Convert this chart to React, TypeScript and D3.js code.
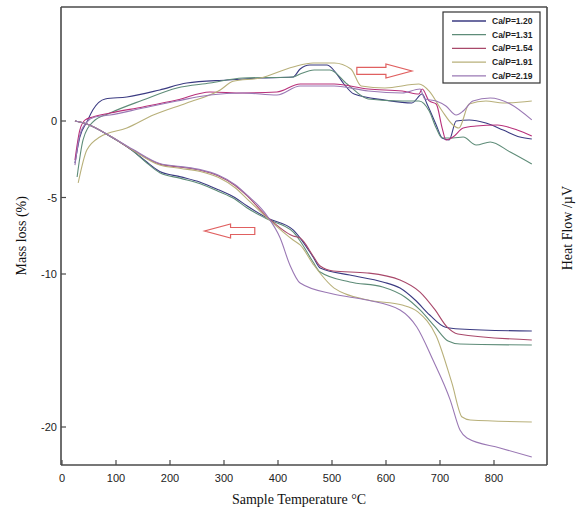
import React from 'react';
import * as d3 from 'd3';

// TG (mass loss %) and DSC (heat flow) traces, [temperature °C, value]
const seriesNames = ['Ca/P=1.20', 'Ca/P=1.31', 'Ca/P=1.54', 'Ca/P=1.91', 'Ca/P=2.19'];
const seriesColors = ['#3b3b82', '#5e8c78', '#a8486a', '#b8b07a', '#9a78b4'];

const tg120 = [[24, 0], [46, -0.2], [89, -1.0], [131, -1.95], [154, -2.6], [181, -3.3], [220, -3.65], [256, -4.0], [290, -4.5], [320, -5.0], [343, -5.56], [380, -6.34], [428, -7.12], [441, -7.65], [465, -8.89], [478, -9.61], [533, -10.07], [594, -10.52], [626, -10.92], [654, -11.7], [681, -12.68], [709, -13.46], [737, -13.59], [870, -13.73]];
const tg131 = [[24, 0], [46, -0.2], [89, -1.0], [131, -1.95], [154, -2.65], [181, -3.38], [220, -3.75], [256, -4.1], [290, -4.6], [320, -5.1], [343, -5.69], [380, -6.41], [428, -7.25], [441, -7.84], [465, -9.22], [478, -9.87], [533, -10.52], [594, -10.85], [635, -11.5], [663, -12.35], [691, -13.46], [715, -14.38], [737, -14.58], [870, -14.64]];
const tg154 = [[24, 0], [46, -0.2], [89, -0.98], [131, -1.9], [181, -2.82], [220, -3.02], [256, -3.22], [290, -3.6], [320, -4.2], [343, -4.9], [380, -6.27], [428, -7.52], [441, -7.65], [465, -8.82], [478, -9.48], [502, -9.8], [565, -9.93], [626, -10.39], [663, -11.18], [691, -12.35], [713, -13.46], [733, -13.92], [870, -14.31]];
const tg191 = [[24, 0], [46, -0.2], [89, -0.98], [131, -1.9], [181, -2.88], [220, -3.1], [256, -3.3], [290, -3.7], [320, -4.35], [343, -5.1], [380, -6.34], [428, -7.78], [441, -8.1], [465, -9.35], [504, -10.92], [567, -11.7], [630, -12.03], [659, -12.48], [693, -14.05], [722, -17.12], [741, -19.35], [756, -19.54], [870, -19.67]];
const tg219 = [[24, 0], [46, -0.2], [89, -0.98], [131, -1.85], [181, -2.78], [220, -2.98], [256, -3.18], [290, -3.55], [320, -4.15], [343, -4.85], [380, -6.21], [404, -7.65], [422, -9.41], [441, -10.59], [502, -11.31], [565, -11.7], [626, -12.35], [657, -13.46], [687, -15.62], [719, -18.24], [737, -20.2], [750, -20.72], [811, -21.37], [870, -21.96]];

const dsc120 = [[24, -2.75], [33, -1.05], [46, -0.07], [57, 0.72], [80, 1.44], [120, 1.57], [181, 2.03], [231, 2.48], [306, 2.68], [367, 2.81], [428, 2.88], [441, 3.4], [459, 3.66], [491, 3.66], [509, 3.07], [522, 2.42], [541, 1.76], [598, 1.37], [648, 1.18], [667, 1.76], [676, 1.11], [693, -0.26], [704, -1.11], [717, -1.24], [730, 0], [754, 0.07], [785, -0.13], [817, -0.59], [848, -1.05], [870, -1.18]];
const dsc131 = [[28, -3.66], [39, -1.24], [57, -0.07], [89, 0.52], [150, 1.37], [213, 2.16], [274, 2.48], [335, 2.81], [428, 2.88], [441, 3.07], [467, 3.33], [496, 3.33], [528, 2.42], [567, 1.44], [630, 1.31], [661, 1.31], [680, 0.65], [693, -0.46], [704, -1.11], [724, -1.11], [743, -1.05], [767, -1.57], [793, -1.37], [830, -2.03], [870, -2.81]];
const dsc154 = [[24, -2.55], [33, -0.59], [43, 0.07], [57, 0.26], [89, 0.52], [150, 0.92], [213, 1.37], [274, 1.9], [335, 1.83], [398, 1.9], [441, 2.42], [504, 2.42], [567, 2.09], [630, 1.96], [661, 1.76], [667, 2.09], [680, 1.31], [693, 1.11], [704, -0.46], [711, -1.24], [724, -1.05], [743, -0.46], [767, -0.33], [806, -0.26], [843, -0.59], [870, -0.98]];
const dsc191 = [[30, -4.05], [46, -1.9], [70, -1.05], [120, -0.46], [169, 0.39], [231, 1.18], [293, 2.03], [317, 2.6], [367, 2.81], [428, 3.53], [465, 3.79], [504, 3.79], [535, 3.4], [554, 2.29], [598, 2.16], [661, 2.42], [680, 1.96], [704, 0.65], [724, -0.26], [735, -0.46], [754, 1.11], [785, 1.31], [817, 1.18], [870, 1.31]];
const dsc219 = [[24, -2.88], [33, -0.92], [46, -0.07], [61, 0.26], [89, 0.39], [150, 0.85], [213, 1.31], [274, 1.7], [335, 1.83], [398, 1.7], [441, 2.29], [504, 2.29], [567, 1.96], [630, 1.83], [663, 2.09], [672, 1.44], [693, 1.31], [711, 0.98], [730, 0.39], [743, 0.65], [761, 1.31], [793, 1.5], [830, 1.11], [870, 0.07]];

const tgSeries = [tg120, tg131, tg154, tg191, tg219];
const dscSeries = [dsc120, dsc131, dsc154, dsc191, dsc219];

const xTicks = [0, 100, 200, 300, 400, 500, 600, 700, 800];
const yTicks = [0, -5, -10, -20];

const width = 579;
const height = 511;

const x = d3.scaleLinear().domain([0, 800]).range([62, 494]);
const y = d3.scaleLinear().domain([0, -20]).range([121, 427]);
const xMin = x.invert(61);
const xMax = x.invert(547);
const yTop = y.invert(7);
const yBottom = y.invert(465);

const line = d3.line<number[]>()
    .x(d => x(d[0]))
    .y(d => y(d[1]))
    .curve(d3.curveMonotoneX);

// hollow arrow pointing from `from` to `to` at a given level
const arrowPath = (from: number, to: number, v: number) => {
    const x0 = x(from), x1 = x(to), cy = y(v);
    const dir = Math.sign(x1 - x0);
    const hb = x1 - dir * 26;
    const p = d3.path();
    p.moveTo(x0, cy - 3.5);
    p.lineTo(hb, cy - 3.5);
    p.lineTo(hb, cy - 7);
    p.lineTo(x1, cy);
    p.lineTo(hb, cy + 7);
    p.lineTo(hb, cy + 3.5);
    p.lineTo(x0, cy + 3.5);
    p.closePath();
    return p.toString();
};

const App = () => {
    const frameColor = '#4a4a4a';
    return (
        <svg width={width} height={height} style={{ position: 'absolute', left: 0, top: 0, background: '#fff' }}>
            {/* frame */}
            <line x1={x(xMin)} x2={x(xMax)} y1={y(yTop)} y2={y(yTop)} stroke={frameColor} strokeWidth={1.6} />
            <line x1={x(xMin)} x2={x(xMin)} y1={y(yTop)} y2={y(yBottom)} stroke={frameColor} strokeWidth={1.6} />
            <line x1={x(xMax)} x2={x(xMax)} y1={y(yTop)} y2={y(yBottom)} stroke={frameColor} strokeWidth={1.6} />
            <line x1={x(xMin)} x2={x(xMax)} y1={y(yBottom)} y2={y(yBottom)} stroke={frameColor} strokeWidth={1.6} />

            {/* x ticks */}
            {xTicks.map(t => (
                <g key={t}>
                    <line x1={x(t)} x2={x(t)} y1={y(yBottom)} y2={y(yBottom) - 5} stroke={frameColor} strokeWidth={1.2} />
                    <text x={x(t)} y={482} textAnchor="middle" fontFamily="Liberation Sans, Arial, sans-serif" fontSize={11} fill="#222">{t}</text>
                </g>
            ))}
            {/* y ticks */}
            {yTicks.map(t => (
                <g key={t}>
                    <line x1={x(xMin)} x2={x(xMin) + 5} y1={y(t)} y2={y(t)} stroke={frameColor} strokeWidth={1.2} />
                    <text x={57} y={y(t) + 4} textAnchor="end" fontFamily="Liberation Sans, Arial, sans-serif" fontSize={11} fill="#222">{t}</text>
                </g>
            ))}

            {/* axis titles */}
            <text x={(x(xMin) + x(xMax)) / 2 - 5} y={504} textAnchor="middle" fontFamily="Liberation Serif, Times New Roman, serif" fontSize={14} fill="#111">Sample Temperature °C</text>
            <text transform={`translate(26,${y(-7.5)}) rotate(-90)`} textAnchor="middle" fontFamily="Liberation Serif, Times New Roman, serif" fontSize={14} fill="#111">Mass loss (%)</text>
            <text transform={`translate(572,${y(-7)}) rotate(-90)`} textAnchor="middle" fontFamily="Liberation Serif, Times New Roman, serif" fontSize={14} fill="#111">Heat Flow /µV</text>

            {/* DSC */}
            {dscSeries.map((s, i) => (
                <path key={'d' + i} d={line(s) ?? ''} fill="none" stroke={i === 2 ? '#b8307a' : seriesColors[i]} strokeWidth={1.1} />
            ))}
            {/* TG */}
            {tgSeries.map((s, i) => (
                <path key={'t' + i} d={line(s) ?? ''} fill="none" stroke={seriesColors[i]} strokeWidth={1.1} />
            ))}

            {/* arrows */}
            <path d={arrowPath(357, 264, -7.19)} fill="#fff" stroke="#e06060" strokeWidth={1.2} />
            <path d={arrowPath(546, 648, 3.27)} fill="#fff" stroke="#e06060" strokeWidth={1.2} />

            {/* legend */}
            <rect x={443} y={12} width={97} height={71} fill="#fff" stroke="#333" strokeWidth={1.2} />
            {seriesNames.map((n, i) => (
                <g key={n}>
                    <line x1={452} x2={486} y1={21 + i * 13.7} y2={21 + i * 13.7} stroke={seriesColors[i]} strokeWidth={1.3} />
                    <text x={492} y={21 + i * 13.7 + 3} fontFamily="Liberation Sans, Arial, sans-serif" fontWeight="bold" fontSize={8.5} fill="#222">{n}</text>
                </g>
            ))}
        </svg>
    );
};

export default App;
